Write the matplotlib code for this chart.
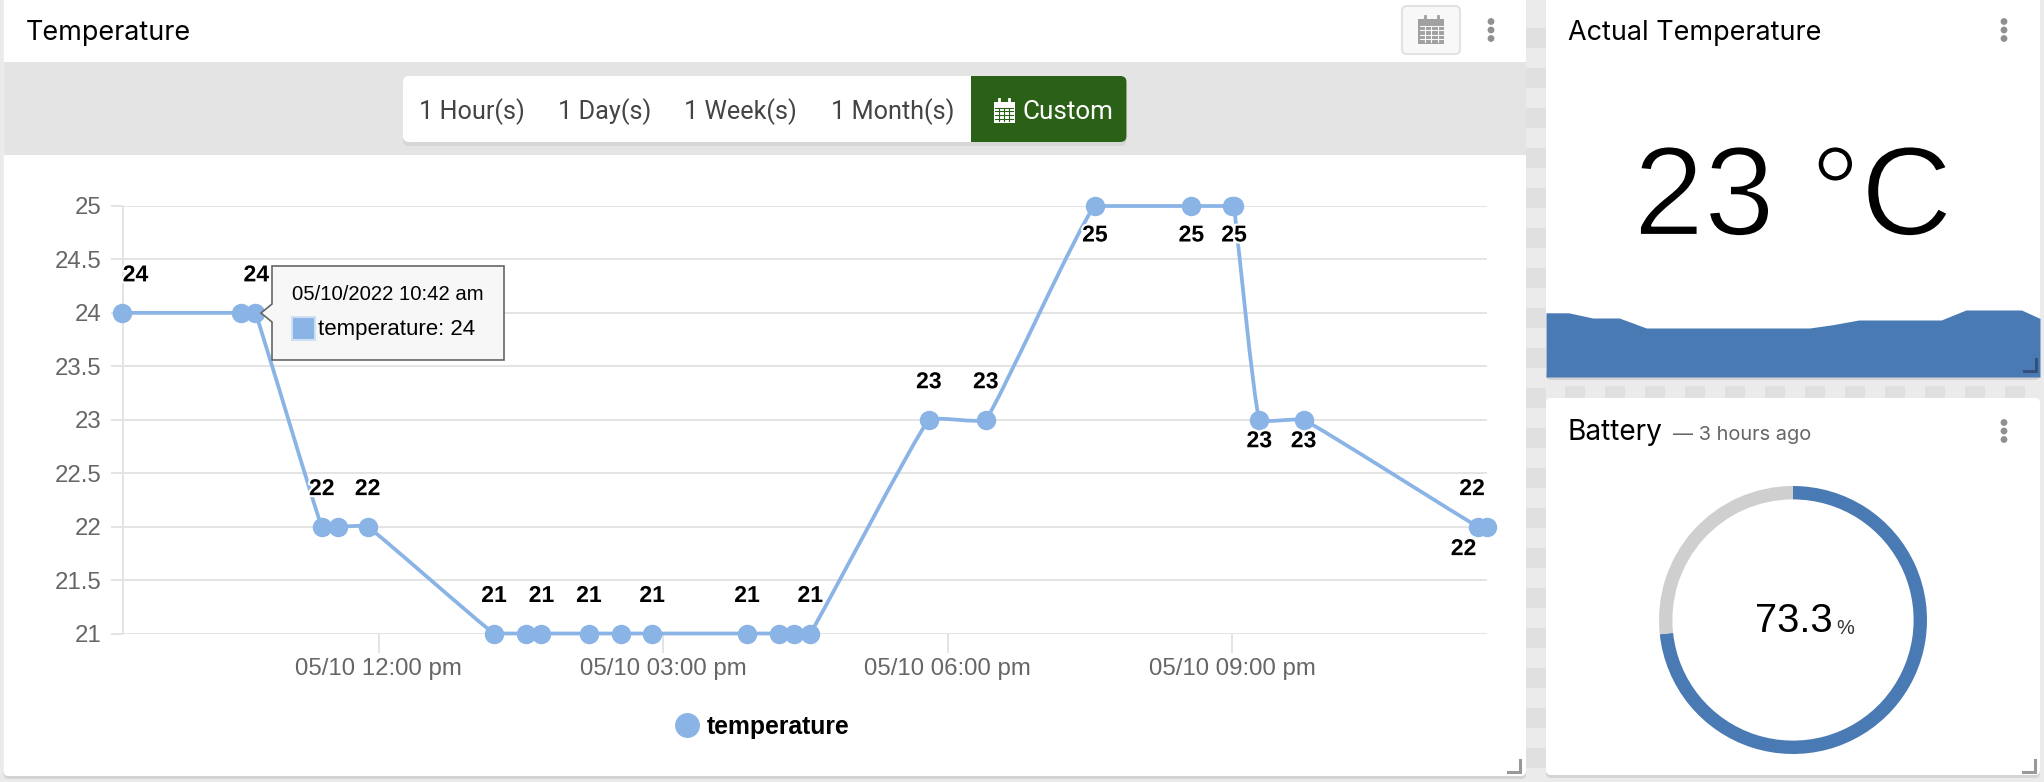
import matplotlib
matplotlib.use("Agg")
import matplotlib.pyplot as plt
import matplotlib.patheffects as pe
import matplotlib.dates as mdates
from matplotlib.patches import Rectangle, FancyBboxPatch, Polygon, Circle
from matplotlib.path import Path
from matplotlib.patches import PathPatch
import numpy as np
import pandas as pd

W, H = 2044, 782
DAY = "2022-05-10 "
times = ["09:18","10:33","10:42","11:24","11:34","11:53","13:13","13:33","13:43","14:13","14:33","14:53",
         "15:53","16:13","16:23","16:33","17:48","18:24","19:33","20:34","21:00","21:01","21:17","21:45","23:35","23:41"]
temps = [24,24,24,22,22,22,21,21,21,21,21,21,21,21,21,21,23,23,25,25,25,25,23,23,22,22]
label_above = [0,2,3,5,6,8,9,11,12,15,16,17,25]
label_below = [18,19,21,22,23,24]
y_ticks = [21,21.5,22,22.5,23,23.5,24,24.5,25]
y_tick_labels = ["21","21.5","22","22.5","23","23.5","24","24.5","25"]
x_ticks = ["12:00","15:00","18:00","21:00"]
x_tick_labels = ["05/10 12:00 pm","05/10 03:00 pm","05/10 06:00 pm","05/10 09:00 pm"]
spark_hours = [0,1.1,2.27,3.56,4.87,12.8,13.9,15.2,19.2,20.4,23.1,24]
spark_vals = [23.9,23.9,23.25,23.25,22,22,22.4,23,23,24.25,24.25,23.2]
battery = 73.3

BLUE="#8ab3e6"; DEEP="#4a7ab4"; GRID="#e4e4e4"; GREY="#666666"
UI="Inter"; CH="Liberation Sans"
def fp(px): return px*0.72

fig = plt.figure(figsize=(W/100,H/100),dpi=100,facecolor="#ebebeb")
bg = fig.add_axes([0,0,1,1],zorder=0); bg.set_xlim(0,W); bg.set_ylim(H,0); bg.axis("off")

def card(x0,y0,x1,y1):
    bg.add_patch(FancyBboxPatch((x0,y0+3),x1-x0,y1-y0,boxstyle="round,pad=0,rounding_size=5",fc="#d4d4d4",ec="none"))
    bg.add_patch(FancyBboxPatch((x0,y0),x1-x0,y1-y0,boxstyle="round,pad=0,rounding_size=5",fc="white",ec="none"))
# checker
for i in range(0,20):
    bg.add_patch(Rectangle((1526,28+i*40),20,20,fc="#e0e0e0",ec="none"))
for i in range(0,12):
    bg.add_patch(Rectangle((1565+i*40,386),20,12,fc="#e0e0e0",ec="none"))
card(3.5,-8,1526,776); card(1546,-8,2040,377); card(1546,398,2040,775)

bg.add_patch(Rectangle((3.5,62),1522.5,93,fc="#e4e4e4",ec="none"))
bg.add_patch(FancyBboxPatch((403,80),723.5,66,boxstyle="round,pad=0,rounding_size=6",fc="#d6d6d6",ec="none"))
bg.add_patch(FancyBboxPatch((403,76),723.5,66,boxstyle="round,pad=0,rounding_size=6",fc="white",ec="none"))
bg.add_patch(FancyBboxPatch((971,76),155.5,66,boxstyle="round,pad=0,rounding_size=6",fc="#2b6116",ec="none"))
bg.add_patch(Rectangle((971,76),8,66,fc="#2b6116",ec="none"))
for s,x in [("1 Hour(s)",419),("1 Day(s)",558),("1 Week(s)",684),("1 Month(s)",831)]:
    bg.text(x,112,s,family="Roboto",fontsize=fp(25.3),color="#444444",va="center",ha="left")
bg.text(1022,112,"Custom",family="Roboto",fontsize=fp(26),color="white",va="center",ha="left")

def calendar(cx,cy,w,h,c,line):
    x0=cx-w/2; y0=cy-h/2
    bg.add_patch(Rectangle((x0,y0),w,h,fc=c,ec="none"))
    for k in range(1,4):
        bg.plot([x0+k*w/4]*2,[y0+h*0.3,y0+h-1.5],color=line,lw=0.8)
    for k in range(0,4):
        yy=y0+h*0.3+k*h*0.7/4
        bg.plot([x0+1.5,x0+w-1.5],[yy,yy],color=line,lw=0.8)
    for k in (0.25,0.75):
        bg.plot([x0+k*w]*2,[y0-3,y0+3],color=c,lw=2)
calendar(1004,112,21,21,"white","#2b6116")
bg.add_patch(FancyBboxPatch((1402,6),58,48,boxstyle="round,pad=0,rounding_size=5",fc="#f8f8f8",ec="#e2e2e2",lw=1.5))
calendar(1431,31,26,25,"#a0a0a0","#f8f8f8")

def dots(x,y):
    for d in (-8.5,0,8.5):
        bg.add_patch(Circle((x,y+d),3.4,fc="#909090",ec="none"))
dots(1491,30); dots(2004,30); dots(2004,431)
def handle(x,y):
    bg.plot([x-12,x,x],[y,y,y-12],color="#999999",lw=2.2,solid_joinstyle="miter")
handle(1520,772); handle(2035,772)

bg.text(26,33,"Temperature",family=UI,fontsize=fp(27),color="black",va="center")
bg.text(1568,33,"Actual Temperature",family=UI,fontsize=fp(27),color="black",va="center")
bg.text(1568,433,"Battery",family=UI,fontsize=fp(28),color="black",va="center")
bg.text(1673,435,"— 3 hours ago",family=UI,fontsize=fp(20),color="#666666",va="center")
bg.text(1793,202,"23 °C",family=CH,fontsize=fp(127),color="black",va="center",ha="center",
        path_effects=[pe.Stroke(linewidth=1.6,foreground="white")])
bg.text(1755,621,"73.3",family=CH,fontsize=fp(40),color="black",va="center",ha="left")
bg.text(1836,628,"%",family=CH,fontsize=fp(20),color="#333333",va="center",ha="left")

# main chart
px=lambda x0,y0,x1,y1:[x0/W,1-y1/H,(x1-x0)/W,(y1-y0)/H]
ax=fig.add_axes(px(122.5,206,1487,633.5),zorder=1,facecolor="none")
t=pd.to_datetime([DAY+s for s in times])
xn=mdates.date2num(t); yv=np.array(temps,float)
ax.set_xlim(xn[0],xn[-1]); ax.set_ylim(21,25)
ax.set_yticks(y_ticks,y_tick_labels)
ax.set_xticks(mdates.date2num(pd.to_datetime([DAY+s for s in x_ticks])),x_tick_labels)
ax.grid(axis="y",color=GRID,lw=1.4); ax.set_axisbelow(True)
for s in ("top","right","bottom"): ax.spines[s].set_visible(False)
ax.spines["left"].set_color(GRID); ax.spines["left"].set_linewidth(1.4)
ax.tick_params(axis="y",length=9,width=1.4,color=GRID,labelcolor=GREY,labelsize=fp(24),pad=6)
ax.tick_params(axis="x",length=14,width=1.4,color=GRID,labelcolor=GREY,labelsize=fp(24),pad=4)
for l in ax.get_xticklabels()+ax.get_yticklabels(): l.set_family(CH)
ax.axhline(21,color=GRID,lw=1.4,zorder=1)

# Chart.js-like spline through the points, control points capped to the plot area
pts=ax.transData.transform(np.c_[xn,yv])
ylo,yhi=pts[:,1].min(),pts[:,1].max()
tn=0.1
verts=[pts[0]]; codes=[Path.MOVETO]
cp=[]
for i in range(len(pts)):
    p=pts[i]; a=pts[max(i-1,0)]; b=pts[min(i+1,len(pts)-1)]
    d1=np.hypot(*(p-a)); d2=np.hypot(*(b-p)); s=d1+d2
    if s==0: cp.append((p,p)); continue
    c1=p-(b-a)*tn*d1/s; c2=p+(b-a)*tn*d2/s
    c1[1]=np.clip(c1[1],ylo,yhi); c2[1]=np.clip(c2[1],ylo,yhi)
    cp.append((c1,c2))
for i in range(1,len(pts)):
    verts+= [cp[i-1][1],cp[i][0],pts[i]]; codes+=[Path.CURVE4]*3
ax.add_patch(PathPatch(Path(verts,codes),fc="none",ec=BLUE,lw=2.7,transform=None,zorder=3,clip_on=False))
ln,=ax.plot(xn,yv,ls="none",marker="o",ms=13,mfc=BLUE,mec=BLUE,clip_on=False,zorder=4,label="temperature")

stroke=[pe.withStroke(linewidth=3,foreground="white")]
def lab(i,dy,dx=0):
    ax.annotate(str(temps[i]),(xn[i],yv[i]),xytext=(dx*0.72,dy*0.72),textcoords="offset points",ha="center",va="center",
                family=CH,fontweight="bold",fontsize=fp(23),color="black",path_effects=stroke,zorder=5,annotation_clip=False)
for i in label_above:
    lab(i,38,{0:13,2:1,25:-15}.get(i,0))
for i in label_below:
    lab(i,{25:-29,23:-21,22:-22}.get(temps[i],-29),{24:-14}.get(i,0))

leg=fig.legend(handles=[ln],loc="center",bbox_to_anchor=(762/W,1-727/H),frameon=False,handletextpad=0.3,handlelength=1.0,
               markerscale=1.3,prop={"family":CH,"weight":"bold","size":fp(24.7)},labelcolor="black")

# tooltip
top=fig.add_axes([0,0,1,1],zorder=3,facecolor="none"); top.set_xlim(0,W); top.set_ylim(H,0); top.axis("off")
top.add_patch(Polygon([(272,266),(504,266),(504,360),(272,360),(272,322),(261,313),(272,304)],closed=True,fc="#f7f7f7",ec=GREY,lw=1.2))
top.text(292,295,"05/10/2022 10:42 am",family=CH,fontsize=fp(20.3),color="black",va="center")
top.add_patch(Rectangle((292,317),23,23,fc=BLUE,ec="#cfe0f5",lw=1.5))
top.text(318,329,"temperature: 24",family=CH,fontsize=fp(22.3),color="black",va="center")

# sparkline
sp=fig.add_axes(px(1546,300,2040,377),zorder=1,facecolor="none"); sp.axis("off")
sp.set_xlim(spark_hours[0],spark_hours[-1]); sp.set_ylim(15.875,25.5)
sp.fill_between(spark_hours,spark_vals,15.875,color=DEEP,lw=0)
bg_h=fig.add_axes([0,0,1,1],zorder=2,facecolor="none"); bg_h.set_xlim(0,W); bg_h.set_ylim(H,0); bg_h.axis("off")
bg_h.plot([2024,2036,2036],[371,371,359],color="#33507a",lw=2.2,solid_joinstyle="miter")

# donut
don=fig.add_axes(px(1659,486,1927,754),zorder=1,facecolor="none")
don.pie([battery,100-battery],colors=[DEEP,"#cfcfcf"],startangle=90,counterclock=False,radius=1.0,
        wedgeprops=dict(width=0.1,linewidth=0),frame=False)
don.set_xlim(-1,1); don.set_ylim(-1,1)

fig.savefig("out.png",dpi=100,facecolor=fig.get_facecolor())
